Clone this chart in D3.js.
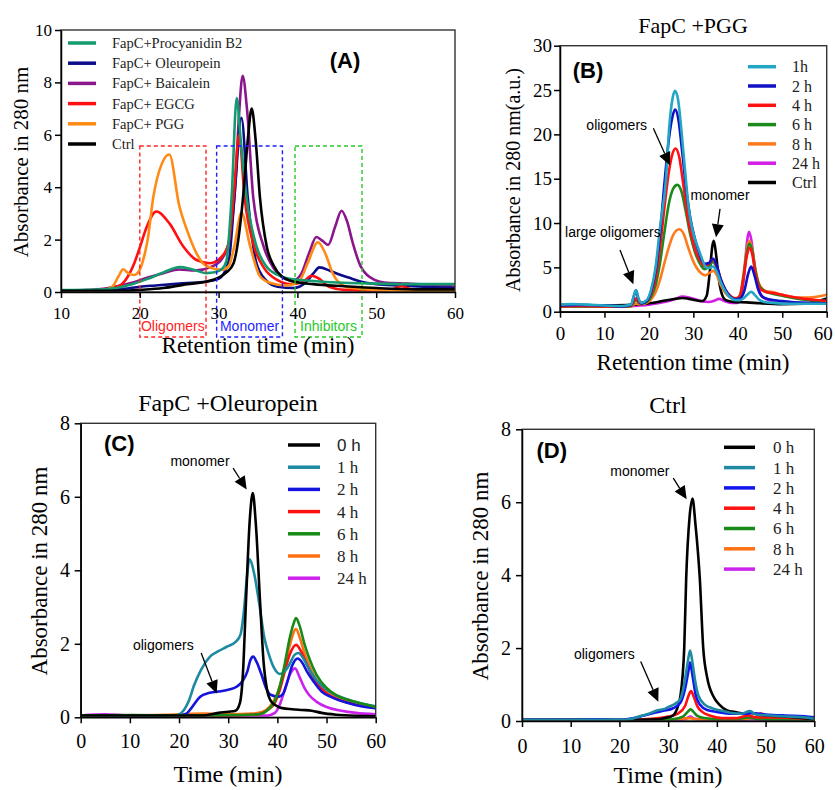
<!DOCTYPE html>
<html>
<head>
<meta charset="utf-8">
<script src="https://cdn.jsdelivr.net/npm/d3@7"></script>
<style>
  body { margin: 0; background: #fff; }
  svg { display: block; }
</style>
</head>
<body>
<svg id="chart" width="835" height="790"></svg>
<script>
// ---------- data: panel A (retention time, absorbance) ----------
const namesA = ["FapC+Procyanidin B2", "FapC+ Oleuropein", "FapC+ Baicalein", "FapC+ EGCG", "FapC+ PGG", "Ctrl"];
const procyA = [[10,0.07],[14,0.08],[17,0.15],[19,0.3],[21,0.5],[23,0.75],[25.1,0.95],[26.5,0.88],[28.5,0.72],[29.5,0.75],[30.5,0.9],[31,1.2],[31.65,3.6],[32.3,7.4],[32.8,5.8],[33.55,3.6],[34.8,1.75],[36,1.0],[37.5,0.65],[39,0.5],[42,0.42],[45,0.36],[50,0.32],[55,0.3],[60,0.3]];
const oleuA = [[10,0.05],[15,0.07],[18,0.12],[20,0.2],[22,0.25],[25,0.32],[28,0.38],[30,0.5],[31.3,1.2],[32.0,3.6],[32.9,6.65],[33.7,3.6],[34.8,1.1],[36,0.45],[37.5,0.2],[39.5,0.15],[41,0.35],[42,0.7],[42.8,0.94],[44.2,0.8],[45.5,0.65],[46.5,0.55],[48,0.4],[50,0.3],[53,0.25],[56,0.2],[60,0.15]];
const baicA = [[10,0.05],[13,0.07],[16,0.15],[19,0.35],[21,0.55],[23,0.72],[25,0.86],[27,0.82],[29,0.95],[30.5,1.3],[31.5,2.2],[32.2,4.5],[32.6,6.8],[33.05,8.25],[33.6,7.0],[34.4,3.6],[35.7,1.75],[37,0.9],[38.5,0.5],[39.5,0.45],[40.5,0.7],[41.5,1.5],[42.4,2.1],[43.2,1.95],[43.9,1.8],[44.8,2.5],[45.6,3.1],[46.3,2.7],[47,1.9],[48,1.0],[49.8,0.46],[51,0.36],[54,0.32],[57,0.28],[60,0.2]];
const egcgA = [[10,0.05],[14,0.05],[16,0.12],[17.5,0.25],[18.5,0.6],[19.3,1.1],[20,1.7],[20.9,2.5],[22.1,3.07],[23.8,2.6],[25.5,1.75],[27.2,1.22],[28.9,1.1],[30.4,1.35],[31.3,1.9],[31.9,3.6],[32.6,6.0],[33.3,3.6],[34.5,1.75],[35.8,0.9],[37.5,0.45],[39,0.3],[40.5,0.35],[41.8,0.62],[42.8,0.5],[44,0.2],[46,0.08],[50,0.05],[52,0.1],[53.2,0.22],[54.5,0.1],[57,0.05],[60,0.05]];
const pggA = [[10,0.05],[15,0.05],[16.5,0.2],[17.3,0.6],[17.9,0.87],[18.6,0.7],[19.3,0.65],[20,0.85],[20.5,1.3],[21,2.0],[21.7,3.6],[22.8,4.9],[23.75,5.25],[25,3.3],[26,2.35],[27,1.6],[28,1.1],[29.3,0.9],[30.5,0.85],[31.3,1.0],[32.0,1.75],[32.9,3.03],[34.0,1.75],[35.25,0.6],[36.5,0.35],[38.5,0.25],[40.2,0.4],[41.3,1.1],[42.6,1.9],[43.5,1.5],[44.5,0.7],[45.5,0.3],[47,0.15],[50,0.08],[55,0.05],[60,0.05]];
const ctrlA = [[10,0.05],[15,0.05],[18,0.05],[20,0.08],[23,0.15],[26,0.3],[28.5,0.4],[30,0.55],[31,0.75],[31.9,1.1],[32.5,2.0],[33.1,3.6],[33.7,5.8],[34.2,7.0],[34.7,5.8],[35.25,3.6],[36.1,1.75],[37,1.0],[38,0.6],[39.5,0.4],[42,0.3],[46,0.22],[50,0.15],[55,0.1],[60,0.1]];
// dashed regions in panel A: [label, start, end] in minutes
const regionsA = [["Oligomers", 20.0, 28.4], ["Monomer", 29.75, 38.1], ["Inhibitors", 39.7, 48.2]];

// ---------- data: panel B (FapC + PGG) ----------
const namesB = ["1h", "2 h", "4 h", "6 h", "8 h", "24 h", "Ctrl"];
const b1h = [[0,0.8],[3,0.85],[6,0.8],[10,0.7],[14,0.65],[16,0.8],[16.6,1.8],[17.1,2.45],[17.6,1.6],[18.3,1.0],[19.5,1.3],[20.5,2.5],[21.5,5],[22.5,9.5],[23.85,15],[24.6,21],[25.3,24],[25.9,24.9],[26.6,23.8],[27.4,20],[28.3,15],[29,11.5],[30,8.8],[31,7.3],[32,5.9],[32.7,5.1],[33.5,4.9],[34.4,5.1],[35.2,4.6],[36.2,3.3],[37.2,2.3],[38.3,1.6],[39.5,1.3],[40.5,1.3],[41.5,1.6],[42.3,2.0],[43,2.25],[43.8,1.9],[44.8,1.35],[46,1.1],[48,1.0],[52,0.9],[56,0.9],[60,0.9]];
const b2h = [[0,0.7],[5,0.75],[10,0.7],[14,0.6],[16,0.75],[16.6,1.7],[17.1,2.4],[17.6,1.5],[18.3,0.9],[19.5,1.2],[20.5,2.3],[21.5,4.6],[22.5,8.8],[23.5,14.5],[24.5,19.5],[25.3,22],[25.9,22.8],[26.6,21.8],[27.5,18],[28.4,13.8],[29.3,10.6],[30.3,8.3],[31.3,6.6],[32.5,5.4],[33.5,5.5],[34.4,6.0],[35.2,5.3],[36.2,3.6],[37.2,2.5],[38.3,1.7],[39.5,1.4],[40.5,1.5],[41.5,2.4],[42.3,4.2],[43,5.1],[43.8,4.0],[44.6,2.5],[45.5,1.7],[47,1.4],[50,1.2],[55,1.0],[60,0.95]];
const b4h = [[0,0.6],[5,0.65],[10,0.6],[14,0.6],[16,0.7],[16.7,1.3],[17.2,1.5],[17.8,1.0],[19,1.1],[20.5,2.0],[21.5,3.8],[22.5,7.2],[23.5,11.8],[24.5,15.8],[25.3,17.8],[26.0,18.4],[26.8,17.5],[27.7,14.5],[28.7,10.8],[29.7,8.3],[30.7,6.6],[31.7,5.6],[32.6,5.1],[33.5,5.4],[34.4,5.9],[35.2,5.2],[36.2,3.6],[37.2,2.5],[38.3,1.8],[39.5,1.5],[40.5,1.8],[41.3,3.8],[42.0,6.2],[42.6,7.2],[43.2,6.6],[44,4.2],[45,2.6],[46.5,2.2],[48,2.1],[50,1.9],[53,1.6],[56,1.4],[60,1.2]];
const b6h = [[0,0.6],[5,0.6],[10,0.6],[14,0.55],[16,0.65],[16.7,1.1],[17.2,1.3],[17.8,0.95],[19,1.0],[20.5,1.7],[21.5,3.0],[22.5,5.5],[23.5,9.0],[24.5,12.2],[25.5,13.9],[26.4,14.3],[27.3,13.6],[28.3,11.3],[29.3,8.7],[30.3,6.8],[31.3,5.6],[32.5,4.8],[33.5,5.1],[34.4,5.6],[35.2,5.0],[36.2,3.5],[37.2,2.4],[38.3,1.7],[39.5,1.4],[40.5,1.8],[41.3,4.0],[42.0,6.6],[42.6,7.7],[43.2,7.0],[44,4.5],[45,2.8],[46.5,2.2],[48,2.0],[50,1.8],[53,1.5],[56,1.3],[60,1.2]];
const b8h = [[0,0.55],[5,0.6],[10,0.55],[14,0.55],[16,0.6],[17,0.9],[17.8,0.85],[19,0.9],[20.5,1.4],[21.5,2.2],[22.5,3.6],[23.5,5.5],[24.5,7.3],[25.5,8.7],[26.8,9.3],[27.8,8.8],[28.8,7.3],[29.8,5.9],[30.8,4.9],[31.8,4.3],[32.7,4.1],[33.7,4.4],[34.5,4.6],[35.3,4.1],[36.2,3.0],[37.2,2.1],[38.3,1.6],[39.5,1.4],[40.5,1.9],[41.3,4.3],[42.0,7.0],[42.6,8.0],[43.2,7.2],[44,4.7],[45,2.9],[46.5,2.3],[48,2.2],[50,1.9],[53,1.6],[56,1.6],[60,1.9]];
const b24h = [[0,0.6],[5,0.6],[10,0.6],[15,0.6],[18,0.7],[20,0.8],[22,0.95],[24,1.15],[26,1.45],[27.5,1.7],[29,1.6],[30.5,1.4],[32,1.15],[33.5,1.1],[34.5,1.2],[35.8,1.45],[37,1.2],[38.5,1.0],[40,1.0],[40.8,1.8],[41.5,4.5],[42.1,8.0],[42.5,9.0],[43.0,8.2],[43.7,5.5],[44.5,3.0],[45.5,1.7],[47,1.3],[50,1.1],[55,1.0],[60,1.0]];
const bCtrl = [[0,0.75],[5,0.75],[10,0.7],[15,0.75],[18,0.85],[20,0.95],[22,1.1],[24,1.3],[26,1.45],[27.5,1.55],[29,1.45],[30.5,1.3],[32,1.2],[33,1.8],[33.7,4.5],[34.3,7.5],[34.6,8.0],[35.1,6.5],[35.7,3.8],[36.4,2.0],[37.3,1.3],[39,1.1],[42,1.05],[45,0.95],[50,0.85],[55,0.9],[60,1.5]];

// ---------- data: panel C (FapC + Oleuropein) ----------
const namesC = ["0 h", "1 h", "2 h", "4 h", "6 h", "8 h", "24 h"];
const c0h = [[0,0.05],[10,0.05],[20,0.05],[25,0.05],[28,0.12],[30,0.15],[31.5,0.18],[32.4,0.4],[33.0,1.2],[33.6,3.1],[34.4,5.4],[35.0,6.1],[35.6,5.3],[36.5,3.1],[37.2,1.5],[37.9,0.75],[38.8,0.42],[40,0.3],[41,0.25],[43,0.22],[45,0.2],[47,0.18],[49,0.12],[52,0.07],[56,0.04],[60,0.03]];
const c1h = [[0,0.05],[10,0.05],[19,0.05],[20,0.08],[21,0.2],[22,0.45],[23,0.85],[24.5,1.3],[26.3,1.65],[28,1.8],[29.7,1.92],[31.5,2.05],[32.5,2.25],[33.2,2.9],[33.8,3.8],[34.3,4.3],[35.3,3.9],[36.3,3.1],[37.3,2.2],[38.3,1.7],[39.3,1.35],[40.5,1.18],[41.5,1.25],[42.5,1.45],[43.5,1.7],[44.3,1.75],[45.3,1.6],[46.5,1.3],[48,1.0],[50,0.75],[52,0.6],[55,0.45],[58,0.35],[60,0.3]];
const c2h = [[0,0.05],[10,0.05],[20,0.05],[21.5,0.1],[22.5,0.25],[24.3,0.56],[26,0.66],[28,0.7],[30,0.75],[31.7,0.83],[33,1.0],[33.9,1.25],[34.5,1.55],[35.1,1.65],[35.8,1.5],[36.8,1.15],[37.7,0.8],[38.5,0.62],[40.2,0.56],[41.2,0.65],[42,0.95],[43,1.4],[44.1,1.6],[45,1.5],[46,1.25],[47.5,0.95],[49,0.7],[51,0.55],[54,0.4],[57,0.3],[60,0.25]];
const c4h = [[0,0.05],[10,0.05],[20,0.05],[30,0.05],[36,0.08],[38,0.2],[39.5,0.4],[40.5,0.75],[41.5,1.25],[42.5,1.7],[43.8,1.97],[44.8,1.8],[45.8,1.5],[47,1.15],[48.5,0.85],[50,0.65],[52,0.5],[55,0.38],[58,0.3],[60,0.25]];
const c6h = [[0,0.05],[10,0.06],[20,0.05],[30,0.06],[36,0.08],[38,0.2],[39.5,0.45],[40.5,0.85],[41.5,1.45],[42.5,2.15],[43.3,2.55],[43.8,2.7],[44.5,2.5],[45.5,2.0],[46.5,1.6],[48,1.15],[50,0.8],[52,0.6],[55,0.45],[58,0.35],[60,0.28]];
const c8h = [[0,0.05],[10,0.05],[20,0.08],[25,0.1],[30,0.08],[35,0.1],[37,0.15],[38.5,0.3],[39.5,0.5],[40.5,0.85],[41.5,1.35],[42.5,1.95],[43.8,2.4],[44.6,2.15],[45.5,1.75],[46.5,1.4],[48,1.0],[50,0.72],[52,0.55],[55,0.42],[58,0.32],[60,0.27]];
const c24h = [[0,0.05],[5,0.08],[10,0.05],[20,0.05],[30,0.05],[38,0.05],[39.5,0.12],[40.5,0.35],[41.5,0.75],[42.5,1.15],[43.6,1.33],[44.5,1.1],[45.5,0.8],[46.5,0.6],[48,0.42],[50,0.28],[53,0.18],[56,0.12],[60,0.08]];

// ---------- data: panel D (Ctrl) ----------
const namesD = ["0 h", "1 h", "2 h", "4 h", "6 h", "8 h", "24 h"];
const d0h = [[0,0.03],[10,0.03],[20,0.03],[28,0.05],[30,0.1],[31,0.15],[32,0.4],[32.5,0.67],[33.3,2.0],[33.7,3.9],[34.4,5.6],[35,6.1],[35.6,5.4],[36.5,3.9],[37.2,2.0],[38,1.2],[39.3,0.67],[40.5,0.45],[42,0.3],[44,0.24],[46,0.2],[47,0.22],[49,0.17],[52,0.14],[56,0.1],[60,0.05]];
const d1h = [[0,0.03],[10,0.03],[20,0.03],[22,0.05],[24,0.12],[26,0.2],[28,0.3],[29,0.32],[30,0.38],[31.5,0.48],[32.5,0.6],[33.45,1.13],[34.0,1.6],[34.5,1.93],[35.0,1.6],[35.5,1.13],[36.2,0.7],[37.5,0.45],[39,0.35],[41,0.28],[43,0.22],[45,0.2],[46.8,0.27],[48,0.18],[51,0.15],[55,0.12],[58,0.1],[60,0.06]];
const d2h = [[0,0.03],[10,0.03],[15,0.05],[20,0.03],[23,0.08],[25,0.15],[27,0.22],[29,0.28],[31,0.35],[32.5,0.5],[33.5,0.9],[34.2,1.4],[34.5,1.6],[35.0,1.25],[35.6,0.75],[36.5,0.45],[38,0.3],[40,0.25],[43,0.2],[46,0.2],[47,0.22],[50,0.18],[54,0.15],[58,0.13],[60,0.1]];
const d4h = [[0,0.03],[10,0.03],[20,0.02],[25,0.05],[28,0.08],[30,0.12],[32,0.2],[33.5,0.42],[34.2,0.7],[34.7,0.82],[35.3,0.65],[36,0.4],[37,0.25],[38.5,0.15],[41,0.08],[44,0.08],[46.5,0.15],[48,0.1],[52,0.1],[56,0.08],[60,0.05]];
const d6h = [[0,0.02],[10,0.03],[20,0.02],[28,0.03],[31,0.05],[33,0.12],[34,0.25],[34.6,0.32],[35.2,0.25],[36,0.14],[37.5,0.08],[40,0.05],[44,0.05],[46.5,0.1],[48,0.06],[52,0.04],[56,0.03],[60,0.02]];
const d8h = [[0,0.03],[10,0.03],[20,0.02],[30,0.04],[34.5,0.08],[36,0.04],[40,0.04],[45,0.05],[48,0.1],[49,0.22],[50,0.12],[53,0.08],[55,0.12],[57,0.07],[60,0.05]];
const d24h = [[0,0.02],[10,0.02],[20,0.02],[30,0.02],[33.5,0.05],[34.5,0.12],[35.5,0.06],[38,0.03],[45,0.03],[47,0.05],[50,0.03],[55,0.03],[60,0.06]];

// tick values
const ticksX10 = [10, 20, 30, 40, 50, 60];
const ticksX0 = [0, 10, 20, 30, 40, 50, 60];
const ticksYA = [0, 2, 4, 6, 8, 10];
const ticksYB = [0, 5, 10, 15, 20, 25, 30];
const ticksYCD = [0, 2, 4, 6, 8];

const SERIF = '"Liberation Serif","Times New Roman",serif';
const SANS = '"Liberation Sans",Arial,sans-serif';

const svg = d3.select("#chart");

const panels = [
  {
    id: "A", box: {left: 61, right: 455, top: 30, bottom: 292},
    xDomain: [10, 60], yDomain: [0, 10], xTicks: ticksX10, yTicks: ticksYA,
    tickFont: 17, xPad: 9, yPad: 3,
    series: [
      {name: namesA[0], values: procyA, color: "#139a6e"},
      {name: namesA[1], values: oleuA, color: "#0c0c8a"},
      {name: namesA[2], values: baicA, color: "#8b168b"},
      {name: namesA[3], values: egcgA, color: "#ff0f0f"},
      {name: namesA[4], values: pggA, color: "#ff8a14"},
      {name: namesA[5], values: ctrlA, color: "#000000"}
    ],
    order: [2, 1, 3, 4, 0, 5],
    legend: {x1: 68, x2: 96, tx: 112, y0: 43, dy: 20.2, font: 14.5, sansFirst: false},
    tag: {text: "(A)", x: 345, y: 60},
    yLabel: {text: "Absorbance in 280 nm", x: 21, y: 162, size: 21},
    xLabel: {text: "Retention time (min)", x: 258, y: 345, size: 23},
    regions: regionsA, regionColors: ["#ff2424", "#1f1fff", "#27c827"], regionTop: 5.57, regionBottom: -1.72,
    arrows: []
  },
  {
    id: "B", box: {left: 560, right: 826.7, top: 45.7, bottom: 311.7},
    xDomain: [0, 60], yDomain: [0, 30], xTicks: ticksX0, yTicks: ticksYB,
    tickFont: 19, xPad: 9, yPad: 2, lastTickShift: -4,
    series: [
      {name: namesB[0], values: b1h, color: "#22a6c4"},
      {name: namesB[1], values: b2h, color: "#1010c4"},
      {name: namesB[2], values: b4h, color: "#ff1212"},
      {name: namesB[3], values: b6h, color: "#1b8a1b"},
      {name: namesB[4], values: b8h, color: "#ff7a1c"},
      {name: namesB[5], values: b24h, color: "#d21ee6"},
      {name: namesB[6], values: bCtrl, color: "#000000"}
    ],
    order: [5, 6, 4, 3, 2, 1, 0],
    legend: {x1: 748, x2: 776, tx: 792, y0: 66.7, dy: 19.3, font: 16, sansFirst: false},
    tag: {text: "(B)", x: 588, y: 70},
    title: {text: "FapC +PGG", x: 693, y: 25, size: 22},
    yLabel: {text: "Absorbance in 280 nm(a.u.)", x: 513, y: 180, size: 20},
    xLabel: {text: "Retention time (min)", x: 693, y: 362, size: 23},
    arrows: [
      {text: "oligomers", tx: 12.76, ty: 21.06, from: [21.0, 20.7], to: [24.75, 16.5]},
      {text: "large oligomers", tx: 11.9, ty: 9.0, from: [13.5, 6.96], to: [16.5, 3.1]},
      {text: "monomer", tx: 36.0, ty: 13.2, from: [36.0, 11.6], to: [35.1, 8.4]}
    ]
  },
  {
    id: "C", box: {left: 80.7, right: 375.7, top: 423.3, bottom: 717.3},
    xDomain: [0, 60], yDomain: [0, 8], xTicks: ticksX0, yTicks: ticksYCD,
    tickFont: 20, xPad: 10.3, yPad: 4.7,
    series: [
      {name: namesC[0], values: c0h, color: "#000000"},
      {name: namesC[1], values: c1h, color: "#1d8aa2"},
      {name: namesC[2], values: c2h, color: "#1414de"},
      {name: namesC[3], values: c4h, color: "#ff1010"},
      {name: namesC[4], values: c6h, color: "#178a17"},
      {name: namesC[5], values: c8h, color: "#ff7012"},
      {name: namesC[6], values: c24h, color: "#cc22ee"}
    ],
    order: [6, 5, 3, 2, 1, 4, 0],
    legend: {x1: 288, x2: 320, tx: 337, y0: 445, dy: 22.2, font: 17, sansFirst: true},
    tag: {text: "(C)", x: 119.3, y: 443.3},
    title: {text: "FapC +Oleuropein", x: 228, y: 403, size: 24},
    yLabel: {text: "Absorbance in 280 nm", x: 39, y: 571, size: 23},
    xLabel: {text: "Time (min)", x: 228, y: 774, size: 24},
    arrows: [
      {text: "monomer", tx: 24.26, ty: 6.97, from: [31.0, 6.78], to: [33.76, 6.2]},
      {text: "oligomers", tx: 16.8, ty: 1.97, from: [24.5, 1.75], to: [27.66, 0.65]}
    ]
  },
  {
    id: "D", box: {left: 522, right: 814.3, top: 429.3, bottom: 721},
    xDomain: [0, 60], yDomain: [0, 8], xTicks: ticksX0, yTicks: ticksYCD,
    tickFont: 20, xPad: 11.5, yPad: 5,
    series: [
      {name: namesD[0], values: d0h, color: "#000000"},
      {name: namesD[1], values: d1h, color: "#1d8aa2"},
      {name: namesD[2], values: d2h, color: "#1414f0"},
      {name: namesD[3], values: d4h, color: "#ff1010"},
      {name: namesD[4], values: d6h, color: "#178a17"},
      {name: namesD[5], values: d8h, color: "#ff7012"},
      {name: namesD[6], values: d24h, color: "#cc22ee"}
    ],
    order: [6, 5, 4, 3, 0, 2, 1],
    legend: {x1: 724, x2: 755, tx: 773, y0: 447.3, dy: 20.3, font: 17, sansFirst: false},
    tag: {text: "(D)", x: 551.7, y: 450.7},
    title: {text: "Ctrl", x: 668, y: 405, size: 24},
    yLabel: {text: "Absorbance in 280 nm", x: 480, y: 576, size: 23},
    xLabel: {text: "Time (min)", x: 668, y: 775, size: 24},
    arrows: [
      {text: "monomer", tx: 24.2, ty: 6.86, from: [31.05, 6.66], to: [33.8, 6.08]},
      {text: "oligomers", tx: 16.9, ty: 1.84, from: [24.36, 1.63], to: [27.98, 0.53]}
    ]
  }
];

function drawArrow(g, x0, y0, x1, y1) {
  const ang = Math.atan2(y1 - y0, x1 - x0);
  const len = 13, half = 6;
  const bx = x1 - len * Math.cos(ang), by = y1 - len * Math.sin(ang);
  g.append("line")
    .attr("x1", x0).attr("y1", y0).attr("x2", bx).attr("y2", by)
    .attr("stroke", "#000").attr("stroke-width", 1.3);
  const px = -Math.sin(ang) * half, py = Math.cos(ang) * half;
  g.append("path")
    .attr("d", `M${x1},${y1}L${bx + px},${by + py}L${bx - px},${by - py}Z`)
    .attr("fill", "#000");
}

function drawPanel(p) {
  const b = p.box;
  const x = d3.scaleLinear().domain(p.xDomain).range([b.left, b.right]);
  const y = d3.scaleLinear().domain(p.yDomain).range([b.bottom, b.top]);
  const g = svg.append("g").attr("class", "panel-" + p.id);

  g.append("clipPath").attr("id", "clip" + p.id)
    .append("rect")
    .attr("x", b.left).attr("y", b.top - 5)
    .attr("width", b.right - b.left).attr("height", b.bottom - b.top + 5);

  const line = d3.line()
    .x(d => x(d[0]))
    .y(d => y(d[1]))
    .curve(d3.curveMonotoneX);

  const curves = g.append("g").attr("clip-path", `url(#clip${p.id})`);
  p.order.forEach(i => {
    const s = p.series[i];
    curves.append("path")
      .datum(s.values)
      .attr("d", line)
      .attr("fill", "none")
      .attr("stroke", s.color)
      .attr("stroke-width", 2.6)
      .attr("stroke-linejoin", "round");
  });

  // dashed regions (panel A only)
  if (p.regions) {
    p.regions.forEach((r, i) => {
      const x0 = x(r[1]), x1 = x(r[2]);
      const yt = y(p.regionTop), yb = y(p.regionBottom);
      g.append("rect")
        .attr("x", x0).attr("y", yt)
        .attr("width", x1 - x0).attr("height", yb - yt)
        .attr("fill", "none")
        .attr("stroke", p.regionColors[i])
        .attr("stroke-width", 1.4)
        .attr("stroke-dasharray", "4,3");
      g.append("text")
        .attr("x", (x0 + x1) / 2).attr("y", yb - 11)
        .attr("dy", "0.35em")
        .attr("text-anchor", "middle")
        .attr("font-family", SANS).attr("font-size", 14)
        .attr("fill", p.regionColors[i])
        .text(r[0]);
    });
  }

  // frame
  g.append("rect")
    .attr("x", b.left).attr("y", b.top)
    .attr("width", b.right - b.left).attr("height", b.bottom - b.top)
    .attr("fill", "none").attr("stroke", "#333").attr("stroke-width", 1.4);

  // axes
  const xAxis = d3.axisBottom(x).tickValues(p.xTicks).tickSize(6).tickSizeOuter(0).tickPadding(p.xPad);
  const yAxis = d3.axisLeft(y).tickValues(p.yTicks).tickSize(6).tickSizeOuter(0).tickPadding(p.yPad);
  const gx = g.append("g").attr("transform", `translate(0,${b.bottom})`).call(xAxis);
  const gy = g.append("g").attr("transform", `translate(${b.left},0)`).call(yAxis);
  [gx, gy].forEach(a => {
    a.attr("font-family", SERIF).attr("font-size", p.tickFont);
    a.selectAll("path, line").attr("stroke", "#000").attr("stroke-width", 1.5);
    a.selectAll("text").attr("fill", "#000");
  });
  if (p.lastTickShift) {
    gx.selectAll(".tick").filter(d => d === p.xDomain[1]).select("text").attr("dx", p.lastTickShift);
  }

  // legend
  const L = p.legend;
  p.series.forEach((s, i) => {
    const ly = L.y0 + i * L.dy;
    g.append("line")
      .attr("x1", L.x1).attr("x2", L.x2).attr("y1", ly).attr("y2", ly)
      .attr("stroke", s.color).attr("stroke-width", 3.5);
    g.append("text")
      .attr("x", L.tx).attr("y", ly).attr("dy", "0.35em")
      .attr("font-family", (L.sansFirst && i === 0) ? SANS : SERIF)
      .attr("font-size", L.font)
      .attr("fill", "#222")
      .style("white-space", "pre")
      .text(s.name);
  });

  // panel tag
  g.append("text")
    .attr("x", p.tag.x).attr("y", p.tag.y).attr("dy", "0.35em")
    .attr("text-anchor", "middle")
    .attr("font-family", SANS).attr("font-weight", "bold").attr("font-size", 22)
    .text(p.tag.text);

  // title
  if (p.title) {
    g.append("text")
      .attr("x", p.title.x).attr("y", p.title.y).attr("dy", "0.35em")
      .attr("text-anchor", "middle")
      .attr("font-family", SERIF).attr("font-size", p.title.size)
      .text(p.title.text);
  }

  // axis titles
  g.append("text")
    .attr("transform", `translate(${p.yLabel.x},${p.yLabel.y}) rotate(-90)`)
    .attr("dy", "0.35em")
    .attr("text-anchor", "middle")
    .attr("font-family", SERIF).attr("font-size", p.yLabel.size)
    .text(p.yLabel.text);
  g.append("text")
    .attr("x", p.xLabel.x).attr("y", p.xLabel.y).attr("dy", "0.35em")
    .attr("text-anchor", "middle")
    .attr("font-family", SERIF).attr("font-size", p.xLabel.size)
    .text(p.xLabel.text);

  // annotations
  p.arrows.forEach(a => {
    g.append("text")
      .attr("x", x(a.tx)).attr("y", y(a.ty)).attr("dy", "0.35em")
      .attr("text-anchor", "middle")
      .attr("font-family", SANS).attr("font-size", 14)
      .text(a.text);
    drawArrow(g, x(a.from[0]), y(a.from[1]), x(a.to[0]), y(a.to[1]));
  });
}

panels.forEach(drawPanel);
</script>
</body>
</html>
